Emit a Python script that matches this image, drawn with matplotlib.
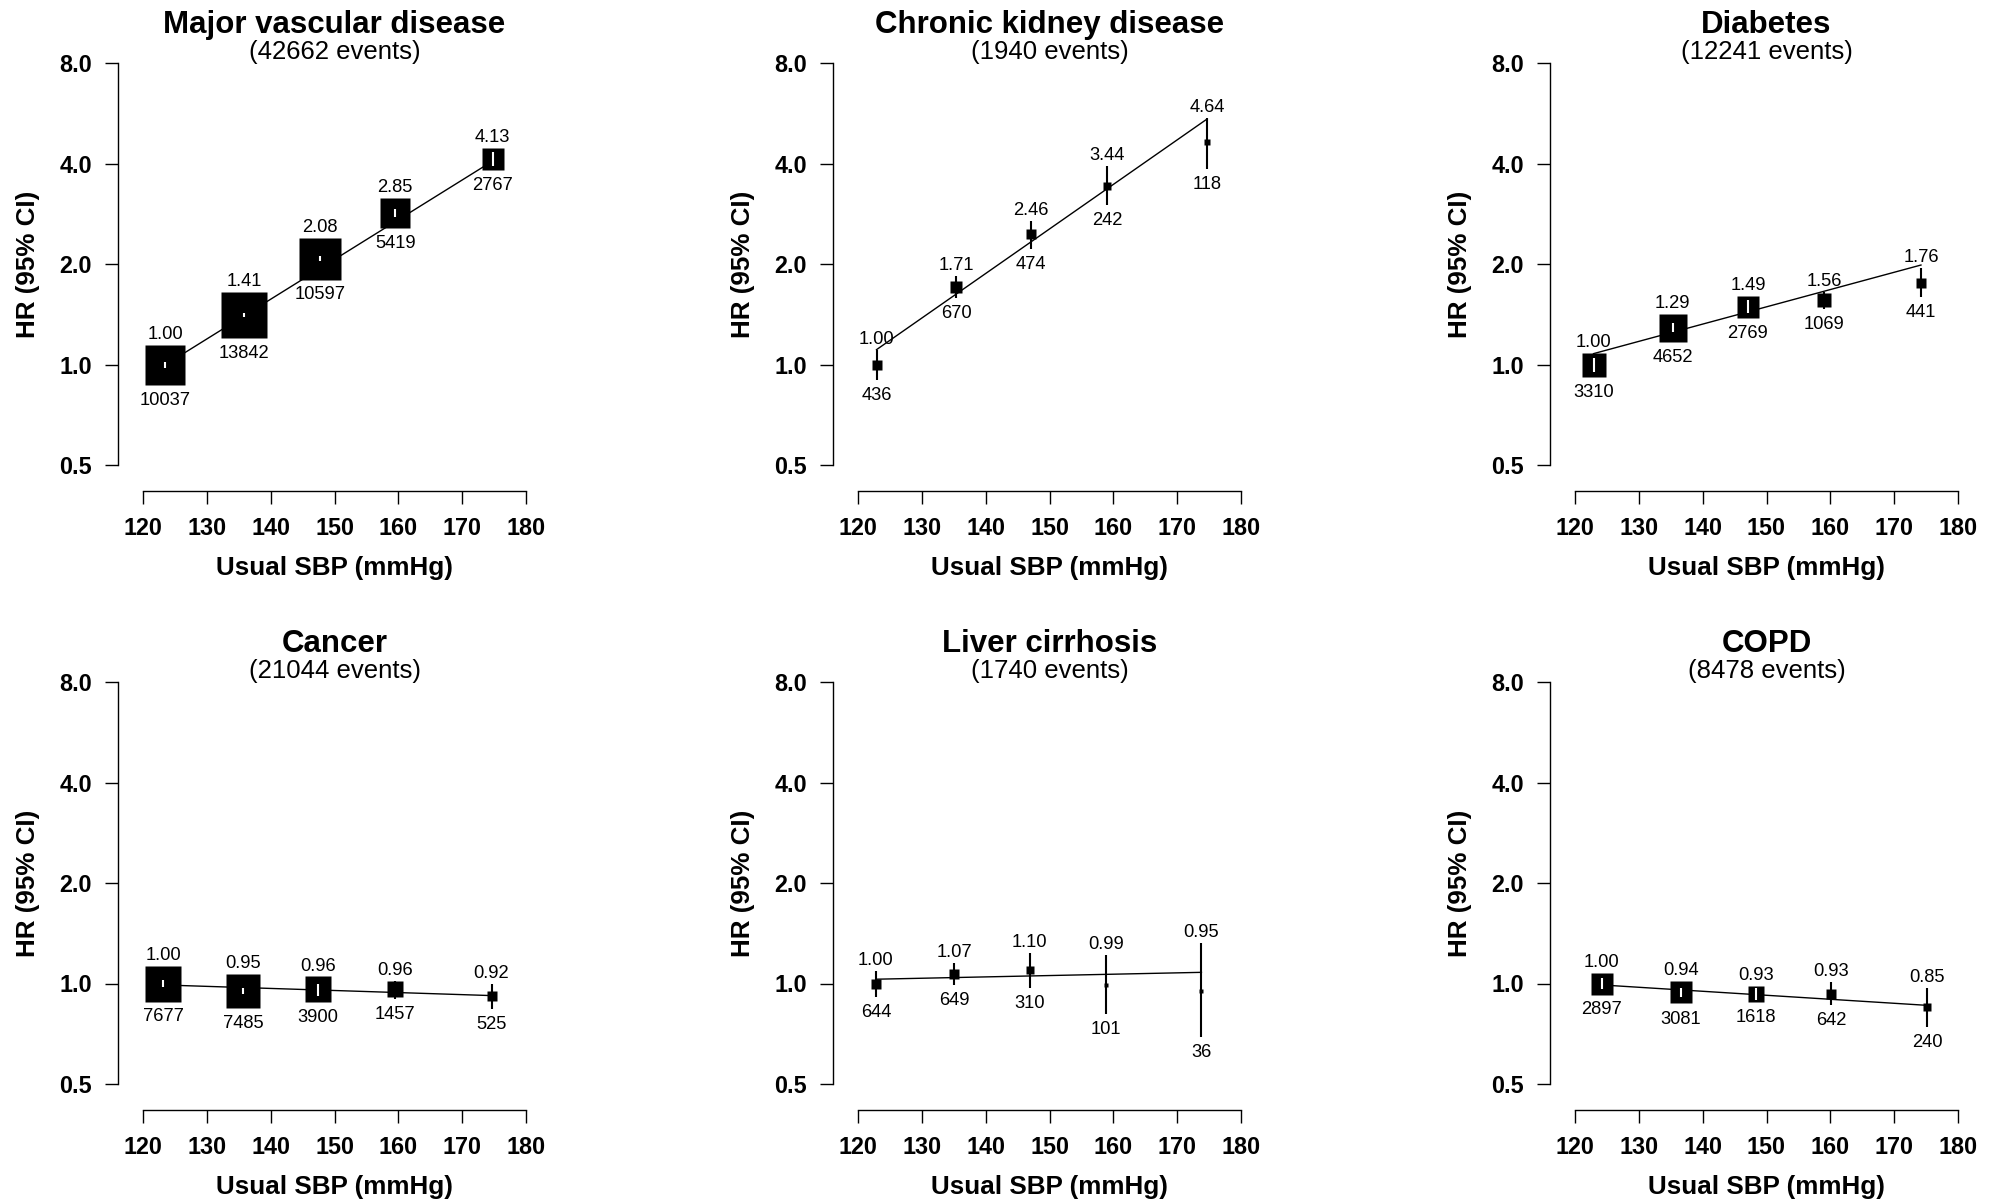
import matplotlib
matplotlib.use("Agg")
import matplotlib.pyplot as plt
import numpy as np

plt.rcParams['font.family'] = ['Liberation Sans', 'DejaVu Sans']

# ---------------- data ----------------
titles = ["Major vascular disease", "Chronic kidney disease", "Diabetes",
          "Cancer", "Liver cirrhosis", "COPD"]
total_events = [42662, 1940, 12241, 21044, 1740, 8478]

x_ticks = [120, 130, 140, 150, 160, 170, 180]
y_ticks = [0.5, 1.0, 2.0, 4.0, 8.0]
y_tick_labels = ["0.5", "1.0", "2.0", "4.0", "8.0"]

mvd_sbp = [123.5, 135.8, 147.7, 159.5, 174.8]
mvd_hr = [1.00, 1.41, 2.08, 2.85, 4.13]
mvd_lo = [0.98, 1.39, 2.04, 2.78, 3.93]
mvd_hi = [1.02, 1.43, 2.12, 2.92, 4.34]
mvd_n = [10037, 13842, 10597, 5419, 2767]
mvd_fit = [1.00, 4.08]

ckd_sbp = [122.9, 135.4, 147.1, 159.0, 174.7]
ckd_hr = [1.00, 1.71, 2.46, 3.44, 4.64]
ckd_lo = [0.90, 1.58, 2.23, 3.02, 3.85]
ckd_hi = [1.11, 1.85, 2.70, 3.93, 5.50]
ckd_n = [436, 670, 474, 242, 118]
ckd_fit = [1.11, 5.45]

dm_sbp = [122.9, 135.3, 147.1, 159.0, 174.2]
dm_hr = [1.00, 1.29, 1.49, 1.56, 1.76]
dm_lo = [0.95, 1.25, 1.43, 1.47, 1.60]
dm_hi = [1.05, 1.33, 1.56, 1.65, 1.95]
dm_n = [3310, 4652, 2769, 1069, 441]
dm_fit = [1.08, 1.99]

ca_sbp = [123.2, 135.7, 147.4, 159.5, 174.6]
ca_hr = [1.00, 0.95, 0.96, 0.96, 0.92]
ca_lo = [0.975, 0.93, 0.92, 0.90, 0.84]
ca_hi = [1.025, 0.97, 1.00, 1.02, 1.00]
ca_n = [7677, 7485, 3900, 1457, 525]
ca_fit = [0.99, 0.92]

lc_sbp = [122.8, 135.1, 146.9, 158.8, 173.8]
lc_hr = [1.00, 1.07, 1.10, 0.99, 0.95]
lc_lo = [0.91, 0.99, 0.97, 0.81, 0.69]
lc_hi = [1.09, 1.15, 1.23, 1.22, 1.32]
lc_n = [644, 649, 310, 101, 36]
lc_fit = [1.03, 1.08]

copd_sbp = [124.2, 136.6, 148.3, 160.1, 175.2]
copd_hr = [1.00, 0.94, 0.93, 0.93, 0.85]
copd_lo = [0.96, 0.91, 0.89, 0.86, 0.74]
copd_hi = [1.04, 0.97, 0.97, 1.01, 0.97]
copd_n = [2897, 3081, 1618, 642, 240]
copd_fit = [0.99, 0.86]

panels = [
    (mvd_sbp, mvd_hr, mvd_lo, mvd_hi, mvd_n, mvd_fit),
    (ckd_sbp, ckd_hr, ckd_lo, ckd_hi, ckd_n, ckd_fit),
    (dm_sbp, dm_hr, dm_lo, dm_hi, dm_n, dm_fit),
    (ca_sbp, ca_hr, ca_lo, ca_hi, ca_n, ca_fit),
    (lc_sbp, lc_hr, lc_lo, lc_hi, lc_n, lc_fit),
    (copd_sbp, copd_hr, copd_lo, copd_hi, copd_n, copd_fit),
]

# ---------------- layout (pixels) ----------------
W, H = 2001, 1203
col_left = [143, 858, 1575]
row_top = [63.3, 682.0]
ax_w, ax_h = 383, 402
yspine_off = 25
xspine_off = 25.5


def pt(px):
    return px * 72.0 / 100.0


fig = plt.figure(figsize=(W / 100, H / 100), dpi=100)

for i, (sbp, hr, lo, hi, n, fit) in enumerate(panels):
    r, c = divmod(i, 3)
    left, top = col_left[c], row_top[r]
    ax = fig.add_axes([left / W, 1 - (top + ax_h) / H, ax_w / W, ax_h / H])
    ax.set_yscale('log', base=2)
    ax.set_xlim(120, 180)
    ax.set_ylim(0.5, 8)
    ax.patch.set_visible(False)
    for s in ['top', 'right']:
        ax.spines[s].set_visible(False)
    ax.spines['left'].set_position(('outward', pt(yspine_off)))
    ax.spines['bottom'].set_position(('outward', pt(xspine_off)))
    ax.spines['left'].set_bounds(0.5, 8)
    ax.spines['bottom'].set_bounds(120, 180)
    for s in ['left', 'bottom']:
        ax.spines[s].set_linewidth(1.0)
    ax.set_yticks(y_ticks)
    ax.set_yticklabels(y_tick_labels, fontsize=16.8, fontweight='bold')
    ax.yaxis.set_minor_locator(matplotlib.ticker.NullLocator())
    ax.set_xticks(x_ticks)
    ax.set_xticklabels([str(t) for t in x_ticks], fontsize=16.8, fontweight='bold')
    ax.tick_params(axis='y', length=pt(13), width=1.0, pad=pt(13))
    ax.tick_params(axis='x', length=pt(13), width=1.0, pad=pt(13))

    px_per_oct = ax_h / 4.0
    ax.plot([sbp[0], sbp[-1]], fit, color='black', lw=1.0, zorder=2,
            clip_on=False)
    for x, h, l, u, k in zip(sbp, hr, lo, hi, n):
        side = 0.39 * np.sqrt(k) + 1.0
        half = side / 2.0 / px_per_oct
        b_lo, b_hi = h * 2 ** (-half), h * 2 ** half
        inside = (l >= b_lo) and (u <= b_hi)
        if not inside:
            ax.plot([x, x], [l, u], color='black', lw=1.5,
                    solid_capstyle='butt', zorder=3, clip_on=False)
        ax.plot([x], [h], marker='s', ms=pt(side), mfc='black', mec='none',
                ls='none', zorder=4, clip_on=False)
        if inside:
            ax.plot([x, x], [l, u], color='white', lw=1.5,
                    solid_capstyle='butt', zorder=5, clip_on=False)
        top_v = max(u, b_hi)
        bot_v = min(l, b_lo)
        ax.annotate(f"{h:.2f}", xy=(x, top_v), xytext=(0, pt(6)),
                    textcoords='offset points', ha='center', va='baseline',
                    fontsize=13.2, annotation_clip=False, zorder=6)
        ax.annotate(f"{k}", xy=(x, bot_v), xytext=(0, -pt(20)),
                    textcoords='offset points', ha='center', va='baseline',
                    fontsize=13.2, annotation_clip=False, zorder=6)

    cx = left + ax_w / 2.0
    dy = r * (row_top[1] - row_top[0])
    fig.text(cx / W, 1 - (33.3 + dy) / H, titles[i], ha='center',
             va='baseline', fontsize=22.5, fontweight='bold')
    fig.text(cx / W, 1 - (59.3 + dy) / H, f"({total_events[i]} events)",
             ha='center', va='baseline', fontsize=18.5)
    fig.text(cx / W, 1 - (575 + dy) / H, "Usual SBP (mmHg)", ha='center',
             va='baseline', fontsize=18.7, fontweight='bold')
    fig.text((left - yspine_off - 90) / W, 1 - (top + ax_h / 2) / H,
             "HR (95% CI)", ha='center', va='center', rotation=90,
             fontsize=18.7, fontweight='bold')

fig.savefig("out.png", dpi=100)
